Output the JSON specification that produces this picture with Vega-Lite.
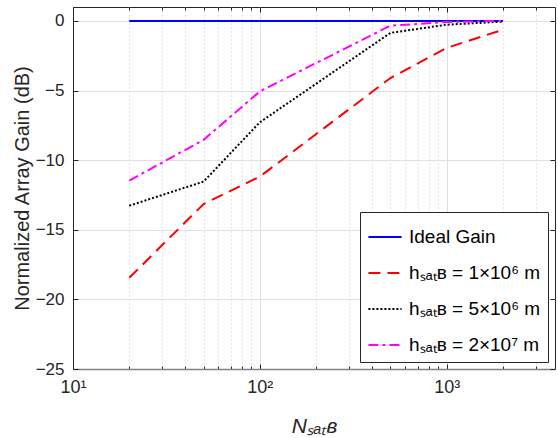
{
  "$schema": "https://vega.github.io/schema/vega-lite/v6.json",
  "width": 482,
  "height": 362,
  "autosize": {"type": "none"},
  "padding": {"left": 73, "top": 7, "right": 3, "bottom": 69},
  "config": {
    "font": "Liberation Sans",
    "view": {"stroke": "#262626", "strokeWidth": 1},
    "axis": {"labelColor": "#262626", "titleColor": "#262626", "labelFont": "Liberation Sans", "titleFont": "Liberation Sans"}
  },
  "data": {
    "values": [
      {"n": 20, "g": 0, "s": "Ideal Gain"},
      {"n": 50, "g": 0, "s": "Ideal Gain"},
      {"n": 100, "g": 0, "s": "Ideal Gain"},
      {"n": 500, "g": 0, "s": "Ideal Gain"},
      {"n": 1000, "g": 0, "s": "Ideal Gain"},
      {"n": 2000, "g": 0, "s": "Ideal Gain"},
      {"n": 20, "g": -18.45, "s": "hₛₐₜʙ = 1×10⁶ m"},
      {"n": 50, "g": -13.15, "s": "hₛₐₜʙ = 1×10⁶ m"},
      {"n": 100, "g": -11.18, "s": "hₛₐₜʙ = 1×10⁶ m"},
      {"n": 500, "g": -4.1, "s": "hₛₐₜʙ = 1×10⁶ m"},
      {"n": 1000, "g": -1.94, "s": "hₛₐₜʙ = 1×10⁶ m"},
      {"n": 2000, "g": -0.63, "s": "hₛₐₜʙ = 1×10⁶ m"},
      {"n": 20, "g": -13.27, "s": "hₛₐₜʙ = 5×10⁶ m"},
      {"n": 50, "g": -11.54, "s": "hₛₐₜʙ = 5×10⁶ m"},
      {"n": 100, "g": -7.28, "s": "hₛₐₜʙ = 5×10⁶ m"},
      {"n": 500, "g": -0.86, "s": "hₛₐₜʙ = 5×10⁶ m"},
      {"n": 1000, "g": -0.27, "s": "hₛₐₜʙ = 5×10⁶ m"},
      {"n": 2000, "g": -0.05, "s": "hₛₐₜʙ = 5×10⁶ m"},
      {"n": 20, "g": -11.47, "s": "hₛₐₜʙ = 2×10⁷ m"},
      {"n": 50, "g": -8.54, "s": "hₛₐₜʙ = 2×10⁷ m"},
      {"n": 100, "g": -5.06, "s": "hₛₐₜʙ = 2×10⁷ m"},
      {"n": 500, "g": -0.34, "s": "hₛₐₜʙ = 2×10⁷ m"},
      {"n": 1000, "g": -0.08, "s": "hₛₐₜʙ = 2×10⁷ m"},
      {"n": 2000, "g": 0, "s": "hₛₐₜʙ = 2×10⁷ m"}
    ]
  },
  "layer": [
    {
      "mark": {"type": "line", "clip": true},
      "encoding": {
        "x": {
          "field": "n", "type": "quantitative",
          "scale": {"type": "log", "domain": [10, 3800], "nice": false},
          "axis": {
            "orient": "bottom",
            "values": [10,20,30,40,50,60,70,80,90,100,200,300,400,500,600,700,800,900,1000,2000,3000],
            "labelExpr": "datum.value == 10 ? '10¹' : datum.value == 100 ? '10²' : datum.value == 1000 ? '10³' : ''",
            "labelFontSize": 18,
            "labelPadding": 14,
            "labelFlush": false,
            "labelOverlap": false,
            "tickSize": {"condition": {"test": "datum.value == 10 || datum.value == 100 || datum.value == 1000", "value": -5}, "value": -3},
            "tickColor": "#262626",
            "domainColor": "#808080",
            "domainWidth": 1.5,
            "grid": true,
            "gridColor": {"condition": {"test": "datum.value == 10 || datum.value == 100 || datum.value == 1000", "value": "#dfdfdf"}, "value": "#c8c8c8"},
            "gridDash": {"condition": {"test": "datum.value == 10 || datum.value == 100 || datum.value == 1000", "value": []}, "value": [1, 3]},
            "title": "Nₛₐₜʙ",
            "titleFontSize": 21,
            "titleFontStyle": "italic",
            "titleFontWeight": "normal",
            "titlePadding": 17
          }
        },
        "y": {
          "field": "g", "type": "quantitative",
          "scale": {"domain": [-25, 1], "nice": false, "zero": false},
          "axis": {
            "orient": "left",
            "values": [-25, -20, -15, -10, -5, 0],
            "labelExpr": "datum.value < 0 ? '−' + abs(datum.value) : '0'",
            "labelFontSize": 17,
            "labelPadding": 14,
            "tickSize": -5,
            "tickColor": "#262626",
            "domainColor": "#262626",
            "grid": true,
            "gridColor": "#dfdfdf",
            "title": "Normalized Array Gain (dB)",
            "titleFontSize": 20,
            "titleFontWeight": "normal",
            "titlePadding": 3
          }
        },
        "color": {
          "field": "s", "type": "nominal",
          "scale": {
            "domain": ["Ideal Gain", "hₛₐₜʙ = 1×10⁶ m", "hₛₐₜʙ = 5×10⁶ m", "hₛₐₜʙ = 2×10⁷ m"],
            "range": ["#0000ff", "#ff0000", "#000000", "#ff00ff"]
          },
          "legend": {
            "title": null,
            "orient": "bottom-right",
            "offset": 7,
            "symbolType": "stroke",
            "symbolSize": 1100,
            "labelFontSize": 19,
            "labelColor": "#000000",
            "labelOffset": 6,
            "rowPadding": 8,
            "padding": 7,
            "strokeColor": "#262626",
            "fillColor": "#ffffff",
            "labelLimit": 300
          }
        },
        "strokeDash": {
          "field": "s", "type": "nominal",
          "scale": {
            "domain": ["Ideal Gain", "hₛₐₜʙ = 1×10⁶ m", "hₛₐₜʙ = 5×10⁶ m", "hₛₐₜʙ = 2×10⁷ m"],
            "range": [[1, 0], [12, 7], [2, 2], [10, 4, 3, 4]]
          }
        },
        "strokeWidth": {
          "field": "s", "type": "nominal",
          "scale": {
            "domain": ["Ideal Gain", "hₛₐₜʙ = 1×10⁶ m", "hₛₐₜʙ = 5×10⁶ m", "hₛₐₜʙ = 2×10⁷ m"],
            "range": [2, 2, 2.5, 3]
          }
        }
      }
    },
    {
      "mark": {"type": "line", "strokeOpacity": 0},
      "encoding": {
        "x": {
          "field": "n", "type": "quantitative",
          "axis": {
            "orient": "top",
            "values": [10,20,30,40,50,60,70,80,90,100,200,300,400,500,600,700,800,900,1000,2000,3000],
            "labels": false,
            "grid": false,
            "domain": false,
            "tickSize": {"condition": {"test": "datum.value == 10 || datum.value == 100 || datum.value == 1000", "value": -5}, "value": -3},
            "tickColor": "#262626",
            "title": null
          }
        },
        "y": {
          "field": "g", "type": "quantitative",
          "axis": {
            "orient": "right",
            "values": [-25, -20, -15, -10, -5, 0],
            "labels": false,
            "grid": false,
            "domain": false,
            "tickSize": -5,
            "tickColor": "#262626",
            "title": null
          }
        }
      }
    }
  ],
  "resolve": {"axis": {"x": "independent", "y": "independent"}}
}
